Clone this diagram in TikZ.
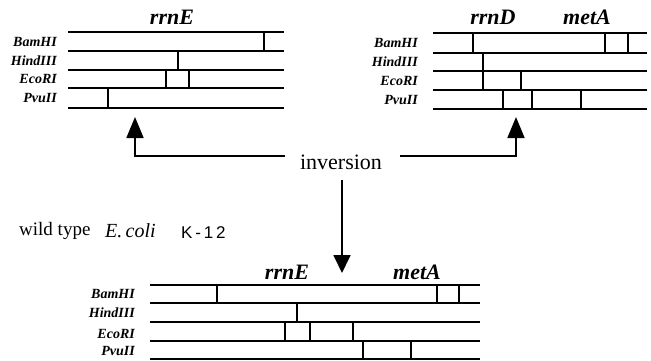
\documentclass[tikz,border=0pt]{standalone}
\usepackage{fontspec}
\setmainfont{Liberation Serif}
\setsansfont{Liberation Sans}
\usetikzlibrary{arrows.meta, positioning}

\begin{document}
\begin{tikzpicture}[
        x=1pt, y=-1pt,
        dna/.style={line width=1.8pt},
        cut/.style={line width=2.4pt},
        enz/.style={anchor=east, inner sep=0pt, font=\fontsize{14}{14}\selectfont\bfseries\itshape},
        gene/.style={inner sep=0pt, font=\fontsize{22}{22}\selectfont\bfseries\itshape},
        arrow/.style={line width=1.8pt, -{Triangle[length=21pt, width=17pt]}},
        txt/.style={inner sep=0pt, font=\fontsize{19}{19}\selectfont}
    ]
        \useasboundingbox (0,0) rectangle (651,360);

        % Top left map
        \foreach \y in {32,51,70,88,108} \draw[dna] (68,\y) -- (284,\y);
        \node[gene] (rrnEtop) at (172,17) {rrnE};
        \node[enz] (bamL) at (57,41.5) {BamHI};
        \node[enz] (hindL) at (57,60.5) {HindIII};
        \node[enz] (ecoL) at (57,79) {EcoRI};
        \node[enz] (pvuL) at (57,98) {PvuII};
        \draw[cut] (264,32) -- (264,51);
        \draw[cut] (178,51) -- (178,70);
        \foreach \x in {166,189} \draw[cut] (\x,70) -- (\x,88);
        \draw[cut] (108,88) -- (108,108);

        % Top right map
        \foreach \y in {33,53,71,90,109} \draw[dna] (433,\y) -- (647,\y);
        \node[gene] (rrnD) at (493,17) {rrnD};
        \node[gene] (metAtop) at (587,17) {metA};
        \node[enz] (bamR) at (418,43) {BamHI};
        \node[enz] (hindR) at (418,62) {HindIII};
        \node[enz] (ecoR) at (418,80.5) {EcoRI};
        \node[enz] (pvuR) at (418,99.5) {PvuII};
        \foreach \x in {473,605,628} \draw[cut] (\x,33) -- (\x,53);
        \draw[cut] (483,53) -- (483,71);
        \foreach \x in {483,521} \draw[cut] (\x,71) -- (\x,90);
        \foreach \x in {503,532,581} \draw[cut] (\x,90) -- (\x,109);

        % Bottom map
        \foreach \y in {285,303,322,341,359} \draw[dna] (150,\y) -- (480,\y);
        \node[gene] (rrnEbot) at (287,272) {rrnE};
        \node[gene] (metAbot) at (417,272) {metA};
        \node[enz] (bamB) at (135,294) {BamHI};
        \node[enz] (hindB) at (135,313) {HindIII};
        \node[enz] (ecoB) at (135,334) {EcoRI};
        \node[enz] (pvuB) at (135,351) {PvuII};
        \foreach \x in {217,437,459} \draw[cut] (\x,285) -- (\x,303);
        \draw[cut] (297,303) -- (297,322);
        \foreach \x in {285,310,353} \draw[cut] (\x,322) -- (\x,341);
        \foreach \x in {363,411} \draw[cut] (\x,341) -- (\x,359);

        % Labels
        \node[txt, font=\fontsize{22}{22}\selectfont] (inv) at (341,162) {inversion};
        \node[txt, anchor=west] (wild) at (19,231) {wild type};
        \node[txt, anchor=west, font=\fontsize{20}{20}\selectfont] (ecoli) at (105,231) {\itshape E.\,coli};
        \node[txt, anchor=west, font=\sffamily\fontsize{17}{17}\selectfont] (k12) at (181,233) {K\,-\,1\,2};

        % Arrows
        \coordinate (invL) at (285,156);
        \coordinate (invR) at (400,156);
        \coordinate (tipL) at (135,117);
        \coordinate (tipR) at (516,117);
        \coordinate (invD) at (342,180);
        \coordinate (tipD) at (342,273);
        \draw[arrow] (invL) -| (tipL);
        \draw[arrow] (invR) -| (tipR);
        \draw[arrow, -{Triangle[length=18pt, width=17pt]}] (invD) -- (tipD);
    \end{tikzpicture}
\end{document}
